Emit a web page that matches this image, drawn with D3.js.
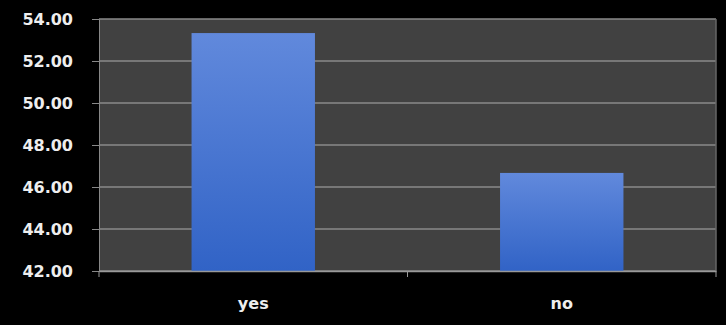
<!DOCTYPE html>
<html><head><meta charset="utf-8">
<script src="https://cdn.jsdelivr.net/npm/d3@7"></script>
<style>body{margin:0;background:#000;}svg{display:block;}</style>
</head><body>
<script>
const categories = ["yes", "no"];
const values = [53.33, 46.67];
const yTicks = [42, 44, 46, 48, 50, 52, 54];

const W = 726, H = 325;
const m = {left: 99, right: 10, top: 19, bottom: 54};
const svg = d3.select("body").append("svg").attr("width", W).attr("height", H);
svg.append("rect").attr("width", W).attr("height", H).attr("fill", "#000");

const x = d3.scaleBand().domain(categories).range([m.left, W - m.right]).paddingInner(0.6).paddingOuter(0.3);
const xb = d3.scaleBand().domain(categories).range([m.left, W - m.right]);
const y = d3.scaleLinear().domain([42, 54]).range([H - m.bottom, m.top]);

const defs = svg.append("defs");
const g = defs.append("linearGradient").attr("id", "bg").attr("x1", 0).attr("y1", 0).attr("x2", 0).attr("y2", 1);
g.append("stop").attr("offset", "0%").attr("stop-color", "#6189dc");
g.append("stop").attr("offset", "100%").attr("stop-color", "#3163c6");

svg.append("rect").attr("x", m.left).attr("y", m.top).attr("width", W - m.right - m.left).attr("height", H - m.bottom - m.top).attr("fill", "#414141");

svg.append("g").selectAll("line").data(yTicks).join("line")
  .attr("x1", m.left).attr("x2", W - m.right).attr("y1", d => y(d)).attr("y2", d => y(d))
  .attr("stroke", "#8a8a8a").attr("stroke-width", 1.5);

svg.append("line").attr("x1", W - m.right).attr("x2", W - m.right).attr("y1", m.top).attr("y2", H - m.bottom).attr("stroke", "#666").attr("stroke-width", 1.5);

svg.append("g").selectAll("rect").data(categories).join("rect")
  .attr("x", d => x(d)).attr("width", x.bandwidth())
  .attr("y", (d, i) => y(values[i])).attr("height", (d, i) => y(42) - y(values[i]))
  .attr("fill", "url(#bg)");

const ya = svg.append("g").attr("transform", `translate(${m.left},0)`)
  .call(d3.axisLeft(y).tickValues(yTicks).tickFormat(d3.format(".2f")).tickSize(7).tickPadding(19));
ya.select(".domain").attr("stroke", "#888");
ya.selectAll(".tick line").attr("stroke", "#888");
ya.selectAll("text").attr("fill", "#eee").style("font-family", "'DejaVu Sans', sans-serif").style("font-size", "16px").style("font-weight", "bold");

const xa = svg.append("g").attr("transform", `translate(0,${H - m.bottom})`)
  .call(d3.axisBottom(xb).tickSize(0).tickPadding(27));
xa.select(".domain").attr("stroke", "#999").attr("stroke-width", 1.5);
xa.selectAll("text").attr("fill", "#eee").style("font-family", "'DejaVu Sans', sans-serif").style("font-size", "16px").style("font-weight", "bold");
const bounds = [m.left, xb("no"), W - m.right];
xa.selectAll(".bt").data(bounds).join("line").attr("class", "bt")
  .attr("x1", d => d).attr("x2", d => d).attr("y1", 0).attr("y2", 6).attr("stroke", "#999");
</script>
</body></html>
